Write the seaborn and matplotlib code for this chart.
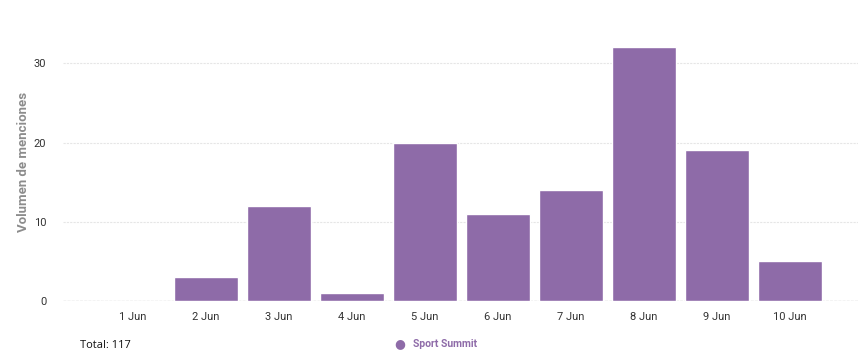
import numpy as np
import pandas as pd
import seaborn as sns
import matplotlib.pyplot as plt

days = ['1 Jun', '2 Jun', '3 Jun', '4 Jun', '5 Jun', '6 Jun', '7 Jun', '8 Jun', '9 Jun', '10 Jun']
mentions = [0, 3, 12, 1, 20, 11, 14, 32, 19, 5]
series_name = 'Sport Summit'
bar_color = '#8E6BA8'

df = pd.DataFrame({'day': days, 'mentions': mentions})

sns.set_style('white')
plt.rcParams['font.family'] = ['Roboto', 'DejaVu Sans']

fig = plt.figure(figsize=(8.64, 3.62), dpi=100)
ax = fig.add_axes([0.073, 0.1685, 0.92, 0.766])

sns.barplot(data=df, x='day', y='mentions', color=bar_color, width=0.88,
            saturation=1, ax=ax, zorder=3)

ax.set_xlim(-0.96, 9.93)
ax.set_ylim(0, 35)
ax.set_yticks([0, 10, 20, 30])
ax.yaxis.grid(True, color='#e6e6e6', linewidth=0.8, linestyle=(0, (2, 1)))
ax.axhline(0, color='#cccccc', linewidth=1, linestyle=(0, (2, 1)), zorder=2)
for s in ax.spines.values():
    s.set_visible(False)
ax.tick_params(axis='both', length=0, labelsize=8, labelcolor='#333333')
ax.tick_params(axis='x', pad=8)
ax.tick_params(axis='y', pad=12)

ax.set_xlabel('')
ax.set_ylabel('Volumen de menciones', fontsize=9.5, color='#8c8c8c',
              fontweight='bold', labelpad=3)

fig.text(80 / 864, 1 - 345 / 362, f'Total: {sum(mentions)}', fontsize=8,
         color='#111111', va='center', family=['Open Sans', 'DejaVu Sans'])
fig.text(400 / 864, 1 - 344 / 362, '\u25CF', fontsize=9, color=bar_color,
         va='center', ha='center')
fig.text(413 / 864, 1 - 344 / 362, series_name, fontsize=7.5, color=bar_color,
         fontweight='bold', va='center')

plt.savefig('out.png', dpi=100)
